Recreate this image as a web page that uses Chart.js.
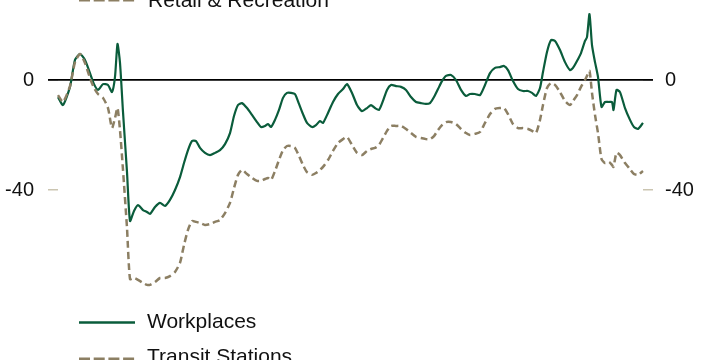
<!DOCTYPE html>
<html>
<head>
<meta charset="utf-8">
<script src="https://cdn.jsdelivr.net/npm/chart.js@4"></script>
<style>
  html, body { margin: 0; padding: 0; background: #fff; }
  #wrap { position: relative; width: 706px; height: 360px; overflow: hidden; }
  #c { position: absolute; left: 0; top: 0; }
  .lg { position: absolute; font-family: "Liberation Sans", Arial, sans-serif; font-size: 21px; line-height: 21px; color: #111; white-space: nowrap; }
  svg.ls { position: absolute; left: 0; top: 0; }
</style>
</head>
<body>
<div id="wrap">
  <canvas id="c" width="706" height="360"></canvas>
  <svg class="ls" width="706" height="360">
    <line x1="79" y1="0" x2="135" y2="0" stroke="#8c7f63" stroke-width="3" stroke-dasharray="11,3.7"/>
    <line x1="79" y1="322.5" x2="135" y2="322.5" stroke="#0a5c3b" stroke-width="2.6"/>
    <line x1="79" y1="359" x2="135" y2="359" stroke="#8c7f63" stroke-width="3" stroke-dasharray="11,3.7"/>
  </svg>
  <div class="lg" style="left:148px; top:-11px;">Retail &amp; Recreation</div>
  <div class="lg" style="left:147px; top:310px;">Workplaces</div>
  <div class="lg" style="left:147px; top:345px;">Transit Stations</div>
</div>
<script>
// Day offsets of the sampled points (x positions along the period)
const days = [0,2.5,6,8.5,11,13.5,16,18,20,22.5,25,27,28.5,29.75,31,32.5,34.5,36,38,40,42.5,44.5,46,48.5,51,53.5,56,58.5,61,63,65,67,69,71,73.5,76,78.5,81,83.5,86,88,90,92,94.5,97,99.5,101.5,103.5,105,106.5,108.5,110.5,112.5,114.5,116.5,118.5,120.5,122.5,124.5,127,129,131,132.5,135,137.5,140,142.5,144.5,147,149.5,152,154.5,156.5,158.5,160.5,162.5,164.5,166.5,169,171.5,174,176.5,179,181.5,184,186,188,190,192,194,196.5,199,201.5,204,206,208.5,211,213.5,216,218.5,221,223,225,227.5,230,232.5,235,237,239,241,242.5,244.5,246.5,248.5,251,253.5,256,257.5,259.5,261.5,263.5,264.5,265.75,267,268.5,270,271.75,273.5,275.5,277,277.75,279.25,281,283.5,286,288,290,292.5];

const workplaces = [-6.2,-9.1,-2.5,7.3,9.5,7.3,2.5,-1.5,-3.6,-1.5,-1.8,-4.4,1.1,13.1,6.2,-11.6,-33.5,-51.3,-47.6,-45.5,-47.3,-48,-48.7,-46.2,-44.7,-45.8,-43.6,-40,-35.3,-30.2,-25.5,-22.2,-22.2,-24.7,-26.5,-27.3,-26.5,-25.5,-23.3,-19.3,-13.1,-9.1,-8.4,-10.2,-12.7,-15.3,-17.1,-16.7,-16,-17.1,-14.5,-10.9,-6.5,-4.7,-4.7,-5.1,-8.7,-12.4,-15.6,-17.1,-16.4,-14.9,-15.6,-12,-8,-5.1,-3.3,-1.5,-4.7,-9.1,-11.3,-10.2,-9.1,-10.2,-10.9,-7.6,-3.6,-1.8,-2.2,-2.5,-3.6,-6.2,-8,-8.4,-8.7,-8.4,-6.2,-3.3,-0.4,1.5,1.8,0,-3.6,-5.8,-5.1,-5.1,-5.5,-1.8,2.5,4.4,4.7,5.1,3.6,-0.4,-3.3,-4,-4,-4.7,-5.8,-2.9,2.9,10.2,14.5,14.2,10.9,6.5,3.6,4.4,6.9,9.8,14.2,15.6,24,12.7,6.5,1.1,-9.8,-8,-8,-8,-10.9,-3.6,-4.4,-10.2,-14.5,-17.1,-17.8,-15.6];

const transit = [-5.5,-8,-2.2,6.5,9.5,6.2,0.7,-2.9,-5.1,-6.5,-10.2,-17.5,-13.8,-10.2,-18.2,-32.7,-53.8,-72.4,-72,-72.7,-73.8,-74.5,-74.5,-73.5,-72,-72,-71.3,-69.8,-66.5,-60,-54.5,-51.3,-51.6,-52,-52.7,-52.4,-51.6,-50.9,-48.4,-44.7,-39.3,-34.5,-32.7,-34.2,-35.6,-36.7,-36.7,-36,-35.6,-36.4,-33.1,-29.1,-25.5,-24,-24,-24.7,-27.6,-30.9,-33.5,-34.5,-33.8,-32.7,-31.6,-29.1,-25.8,-22.9,-21.5,-20.7,-23.6,-26.5,-27.3,-25.8,-25.1,-24.7,-23.6,-21.1,-18.5,-16.7,-16.7,-16.7,-17.8,-19.3,-20.7,-21.1,-21.5,-21.5,-20.4,-18.2,-16.4,-15.3,-15.3,-16,-17.8,-19.3,-20,-19.6,-18.9,-15.6,-12.4,-10.5,-10.2,-10.2,-12.4,-16,-17.5,-17.5,-17.8,-18.5,-19.3,-14.5,-9.1,-2.9,-1.1,-1.8,-4.4,-7.6,-9.1,-7.6,-5.5,-2.5,0,1.5,3.3,-4.7,-12.7,-19.3,-28.7,-30.2,-29.8,-30.9,-31.6,-26.5,-27.3,-30.2,-32.4,-34.2,-34.5,-33.1];

const yTicks = [-40, 0];

const GREEN = '#0a5c3b';
const TAN = '#8c7f63';
const LIGHT = '#cbc5b1';

const toPts = vals => vals.map((v, i) => ({ x: days[i], y: v }));

const yAxisCommon = {
  min: -80, max: 200 / 11,
  afterBuildTicks: s => { s.ticks = yTicks.map(v => ({ value: v })); },
  border: { display: false },
  grid: {
    drawOnChartArea: true,
    tickLength: 10,
    color: c => (c.tick && c.tick.value === 0) ? '#000' : 'rgba(0,0,0,0)',
    tickColor: c => (c.tick && c.tick.value === 0) ? '#000' : LIGHT,
    lineWidth: c => (c.tick && c.tick.value === 0) ? 1.8 : 1.5
  },
  ticks: {
    color: '#111',
    font: { family: '"Liberation Sans", Arial, sans-serif', size: 20 },
    callback: v => String(v)
  }
};

new Chart(document.getElementById('c'), {
  type: 'line',
  data: {
    datasets: [
      {
        label: 'Transit Stations',
        data: toPts(transit),
        borderColor: TAN,
        borderWidth: 2.5,
        borderDash: [7, 4],
        pointRadius: 0,
        tension: 0.2,
        clip: false,
        fill: false
      },
      {
        label: 'Workplaces',
        data: toPts(workplaces),
        borderColor: GREEN,
        borderWidth: 2.2,
        pointRadius: 0,
        tension: 0.2,
        clip: false,
        fill: false
      }
    ]
  },
  options: {
    responsive: false,
    animation: false,
    events: [],
    layout: { padding: { left: 0, right: 0, top: 30, bottom: 60 } },
    plugins: { legend: { display: false }, tooltip: { enabled: false } },
    scales: {
      x: { type: 'linear', min: 0, max: 292.5, display: false },
      y: Object.assign({}, yAxisCommon, {
        position: 'left',
        afterFit: s => { s.width = 58; },
        ticks: Object.assign({}, yAxisCommon.ticks, { padding: 14 })
      }),
      y2: Object.assign({}, yAxisCommon, {
        position: 'right',
        afterFit: s => { s.width = 63; },
        grid: Object.assign({}, yAxisCommon.grid, { drawOnChartArea: false }),
        ticks: Object.assign({}, yAxisCommon.ticks, { padding: 12 })
      })
    }
  }
});
</script>
</body>
</html>
